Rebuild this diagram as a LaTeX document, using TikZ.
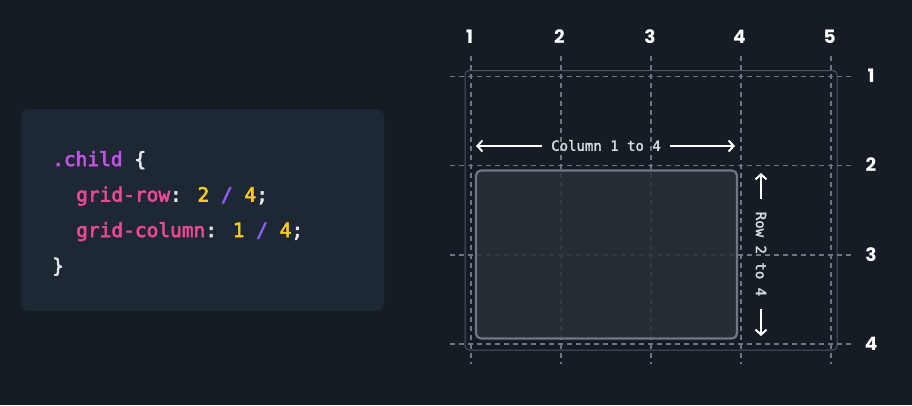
\documentclass[tikz,border=0pt]{standalone}
\usepackage{fontspec}
\setmainfont{Poppins}
\newfontfamily\codefont{DejaVu Sans Mono}[FakeBold=3]
\newfontfamily\labfont{DejaVu Sans Mono}[FakeBold=2]
\newfontfamily\numfont{Poppins}
\usetikzlibrary{arrows.meta}
\definecolor{bg}{HTML}{151C24}
\definecolor{panel}{HTML}{1E2834}
\definecolor{gridc}{HTML}{6B7785}
\definecolor{boxfill}{HTML}{2A3039}
\definecolor{boxline}{HTML}{6E7986}
\definecolor{frame}{HTML}{4A5563}
\definecolor{cpurple}{HTML}{C353E6}
\definecolor{cpink}{HTML}{EC4899}
\definecolor{cyellow}{HTML}{FACC15}
\definecolor{cviolet}{HTML}{8B5CF6}
\definecolor{cwhite}{HTML}{E5E7EB}
\definecolor{lbl}{HTML}{D8DCE2}
\tikzset{
  gline/.style={draw=gridc, line width=1.3pt, dash pattern=on 5pt off 4pt},
  num/.style={font=\numfont\bfseries\fontsize{18.5}{20}\selectfont, text=white, inner sep=0pt},
  code/.style={font=\codefont\fontsize{19.5}{22}\selectfont, anchor=base west, inner sep=0pt, text=cwhite},
  lab/.style={font=\labfont\fontsize{14}{16}\selectfont, text=lbl, inner sep=0pt},
  arr/.style={draw=white, line width=2pt, -{Straight Barb[length=5pt,width=11pt,line width=2pt]}},
}
\begin{document}
\begin{tikzpicture}[x=1pt,y=-1pt]
\fill[bg] (0,0) rectangle (912,405);
\useasboundingbox (0,0) rectangle (912,405);
% code panel
\fill[panel, rounded corners=8pt] (21,109) rectangle (384,311);
\node[code] (l1) at (52,166) {\textcolor{cpurple}{.child} \{};
\node[code] (l2) at (76,201.5) {\textcolor{cpink}{grid-row}: \textcolor{cyellow}{2} \textcolor{cviolet}{/} \textcolor{cyellow}{4};};
\node[code] (l3) at (76,237) {\textcolor{cpink}{grid-column}: \textcolor{cyellow}{1} \textcolor{cviolet}{/} \textcolor{cyellow}{4};};
\node[code] (l4) at (52,272.5) {\}};
% grid container frame
\draw[frame, line width=1pt, rounded corners=4pt] (465,70.5) rectangle (837,350);
% grid lines
\foreach \i/\x in {1/471,2/561,3/651,4/741,5/831} {
  \coordinate (ct\i) at (\x,56);
  \coordinate (cb\i) at (\x,364);
  \draw[gline] (ct\i) -- (cb\i);
}
\foreach \i/\y in {1/76.5,2/165.5,3/255,4/344} {
  \coordinate (rl\i) at (450,\y);
  \coordinate (rr\i) at (852,\y);
  \draw[gline] (rl\i) -- (rr\i);
}
% child box
\draw[draw=boxline, line width=2.2pt, fill=boxfill, fill opacity=0.85, rounded corners=5pt] (476,170.5) rectangle (737,338.5);
% labels
\foreach \i/\x in {1/469.5,2/559.5,3/650,4/739.5,5/829.5}
  \node[num] (cn\i) at (\x,36.5) {\i};
\foreach \i/\y in {1/76,2/165,3/255,4/344}
  \node[num] (rn\i) at (871,\y) {\i};
% column span
\node[lab] (coltxt) at (606,145.5) {Column 1 to 4};
\coordinate (colL) at (476,146);
\coordinate (colR) at (735,146);
\draw[arr] (coltxt.west) ++(-9,0.5) -- (colL);
\draw[arr] (coltxt.east) ++(9,0.5) -- (colR);
% row span
\node[lab, rotate=-90] (rowtxt) at (761,254) {Row 2 to 4};
\coordinate (rowT) at (761,173);
\coordinate (rowB) at (761,336);
\draw[arr] (761,199) -- (rowT);
\draw[arr] (761,309) -- (rowB);
\end{tikzpicture}
\end{document}
